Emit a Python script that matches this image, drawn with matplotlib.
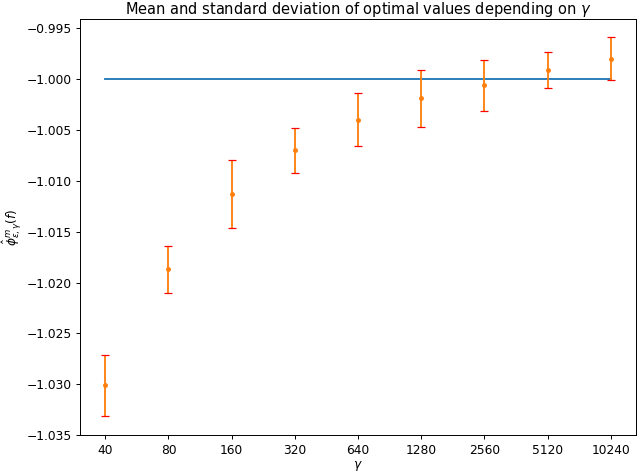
import matplotlib
matplotlib.use('Agg')
import matplotlib.pyplot as plt

gammas = [40, 80, 160, 320, 640, 1280, 2560, 5120, 10240]
means = [-1.0301, -1.0187, -1.0113, -1.0070, -1.0040, -1.0019, -1.0006, -0.9991, -0.9980]
stds = [0.0030, 0.0023, 0.0033, 0.0022, 0.0026, 0.0028, 0.0025, 0.0018, 0.0021]
reference = [-1.0] * len(gammas)

# the reference looks like a scaled-down render, so draw at a lower dpi
dpi = 88
fig, ax = plt.subplots(figsize=(640 / dpi, 474 / dpi), dpi=dpi)
ax.plot(gammas, reference)
_, caps, _ = ax.errorbar(gammas, means, yerr=stds, fmt='.', capsize=3)
for cap in caps:
    cap.set_markeredgecolor('red')

ax.set_xscale('log', base=2)
ax.set_xticks(gammas)
ax.set_xticklabels([str(g) for g in gammas])
ax.minorticks_off()
ax.set_ylim(-1.035, -0.9941)
ax.set_xlabel(r'$\gamma$', labelpad=2)
ax.set_ylabel(r'$\hat{\phi}^{m}_{\varepsilon,\gamma}(f)$', labelpad=2)
ax.set_title(r'Mean and standard deviation of optimal values depending on $\gamma$',
             pad=4)
fig.subplots_adjust(left=0.125, right=0.994, top=0.96, bottom=0.082)
fig.savefig('out.png', dpi=dpi)
